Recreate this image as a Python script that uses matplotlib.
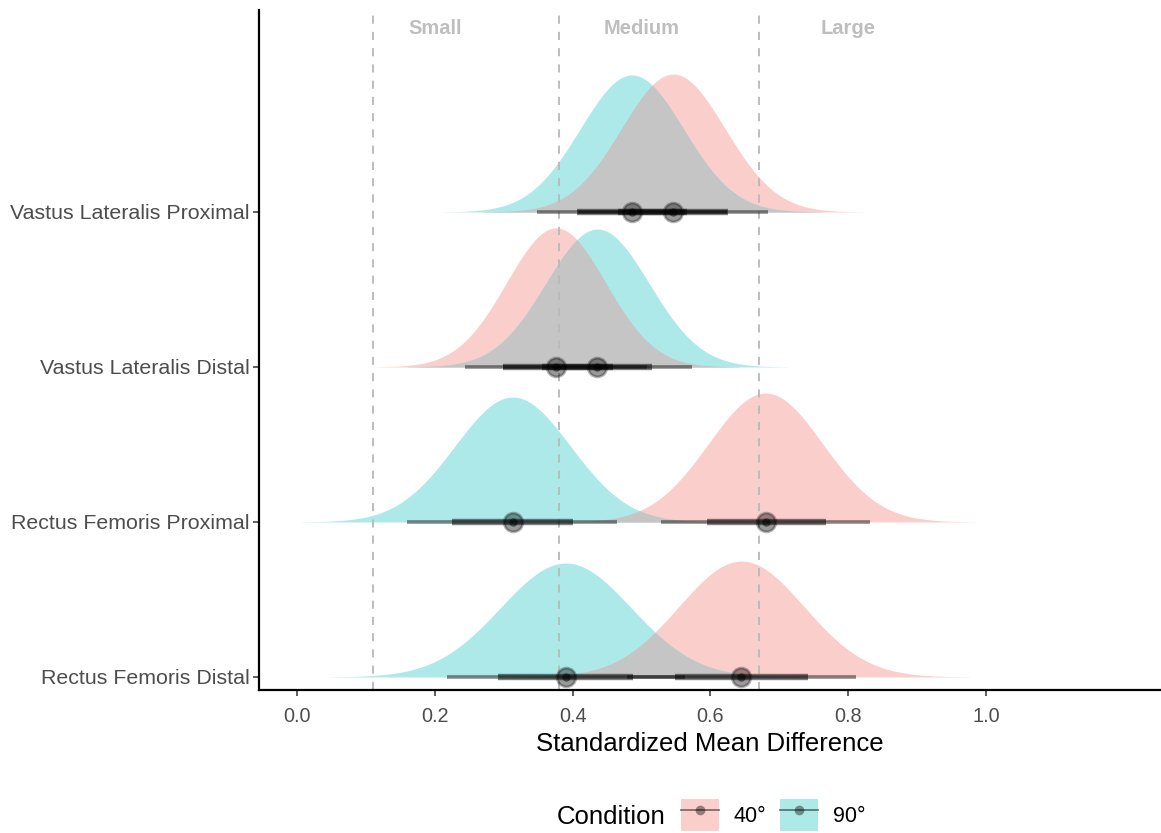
import numpy as np
import matplotlib
matplotlib.use("Agg")
import matplotlib.pyplot as plt
from matplotlib.patches import Patch
from matplotlib.lines import Line2D
from matplotlib.legend_handler import HandlerTuple

plt.rcParams["font.family"] = ["Liberation Sans", "DejaVu Sans"]

# rows, bottom to top
muscles = ["Rectus Femoris Distal", "Rectus Femoris Proximal",
           "Vastus Lateralis Distal", "Vastus Lateralis Proximal"]
conditions = ["40°", "90°"]

# posterior summaries: median, 66% and 95% intervals
med_40  = [0.645, 0.680, 0.376, 0.546]
lo66_40 = [0.548, 0.595, 0.299, 0.466]
hi66_40 = [0.742, 0.768, 0.459, 0.626]
lo95_40 = [0.479, 0.529, 0.244, 0.408]
hi95_40 = [0.811, 0.831, 0.508, 0.684]

med_90  = [0.390, 0.313, 0.436, 0.486]
lo66_90 = [0.292, 0.225, 0.355, 0.406]
hi66_90 = [0.488, 0.401, 0.515, 0.566]
lo95_90 = [0.217, 0.159, 0.299, 0.348]
hi95_90 = [0.563, 0.464, 0.573, 0.624]

# slab shape: peak height (fraction of row spacing) and spread
peak_40 = [0.748, 0.832, 0.897, 0.890]
peak_90 = [0.735, 0.806, 0.890, 0.884]
spread_40 = [0.091, 0.083, 0.072, 0.075]
spread_90 = [0.095, 0.084, 0.075, 0.075]

# effect size thresholds
thresholds = [0.11, 0.38, 0.67]
zone_labels = ["Small", "Medium", "Large"]
zone_pos = [0.20, 0.50, 0.80]

x_ticks = [0.0, 0.2, 0.4, 0.6, 0.8, 1.0]

PINK = "#FACFCB"
CYAN = "#AEE9EA"
GREY = "#C5C5C5"

fig = plt.figure(figsize=(11.61, 8.33), dpi=100)
ax = fig.add_axes([259 / 1161, 1 - 690 / 833, (1161 - 259) / 1161, 680 / 833])

xs = np.linspace(-0.06, 1.26, 1500)


def slab(med, sd, peak):
    return peak * np.exp(-0.5 * ((xs - med) / sd) ** 2)


def pointinterval(y, med, lo66, hi66, lo95, hi95):
    ax.plot([lo95, hi95], [y, y], color="k", alpha=0.45, lw=2.6,
            solid_capstyle="butt", zorder=3)
    ax.plot([lo66, hi66], [y, y], color="k", alpha=0.5, lw=4.6,
            solid_capstyle="butt", zorder=3)
    ax.plot([med], [y], marker="o", markersize=13.5, markerfacecolor=(0, 0, 0, 0.4),
            markeredgecolor=(0, 0, 0, 0.3), markeredgewidth=2, zorder=4)
    ax.plot([med], [y], marker="o", markersize=6, markerfacecolor=(0, 0, 0, 0.5),
            markeredgecolor="none", zorder=4)


for i, name in enumerate(muscles):
    y = i + 1
    h40 = slab(med_40[i], spread_40[i], peak_40[i])
    h90 = slab(med_90[i], spread_90[i], peak_90[i])
    ax.fill_between(xs, y, y + h40, where=h40 > 0.001, color=PINK, lw=0, zorder=1)
    ax.fill_between(xs, y, y + h90, where=h90 > 0.001, color=CYAN, lw=0, zorder=1)
    hmin = np.minimum(h40, h90)
    ax.fill_between(xs, y, y + hmin, where=hmin > 0.001, color=GREY, lw=0, zorder=1.5)
    pointinterval(y, med_40[i], lo66_40[i], hi66_40[i], lo95_40[i], hi95_40[i])
    pointinterval(y, med_90[i], lo66_90[i], hi66_90[i], lo95_90[i], hi95_90[i])

for t in thresholds:
    ax.axvline(t, color="#B8B8B8", lw=1.3, ls=(0, (4.5, 4.5)), zorder=2)

for lab, xp in zip(zone_labels, zone_pos):
    ax.text(xp, 0.973, lab, transform=ax.get_xaxis_transform(), ha="center",
            va="center", fontsize=14.5, fontweight="bold", color="#BEBEBE")

ax.set_xlim(-0.0552, 1.254)
ax.set_ylim(0.916, 5.303)
ax.set_xticks(x_ticks)
ax.set_xticklabels([f"{v:.1f}" for v in x_ticks])
ax.set_yticks(range(1, len(muscles) + 1))
ax.set_yticklabels(muscles)
ax.tick_params(axis="both", length=4.5, width=1.1, color="#333333",
               labelcolor="#4D4D4D")
ax.tick_params(axis="y", labelsize=15.4, pad=2.5)
ax.tick_params(axis="x", labelsize=14.3, pad=8)
ax.set_xlabel("Standardized Mean Difference", fontsize=18.5, labelpad=4)

for s in ["top", "right"]:
    ax.spines[s].set_visible(False)
for s in ["left", "bottom"]:
    ax.spines[s].set_linewidth(1.6)
    ax.spines[s].set_color("black")

# legend
handles = []
for c in [PINK, CYAN]:
    handles.append((Patch(facecolor=c, edgecolor="none"),
                    Line2D([], [], color=(0, 0, 0, 0.45), lw=1.4, marker="o",
                           markersize=7, markerfacecolor=(0, 0, 0, 0.4),
                           markeredgecolor="none")))
fig.text(557 / 1161, 1 - 817 / 833, "Condition", fontsize=18.5, ha="left", va="center")
fig.legend(handles, conditions, handler_map={tuple: HandlerTuple(ndivide=1, pad=0)},
           loc="center left", bbox_to_anchor=(681 / 1161, 1 - 815 / 833),
           frameon=False, ncol=2, fontsize=15.5, numpoints=1,
           handlelength=1.75, handleheight=1.9, handletextpad=0.7,
           columnspacing=0.65, borderpad=0, borderaxespad=0)

fig.savefig("out.png", dpi=100)
